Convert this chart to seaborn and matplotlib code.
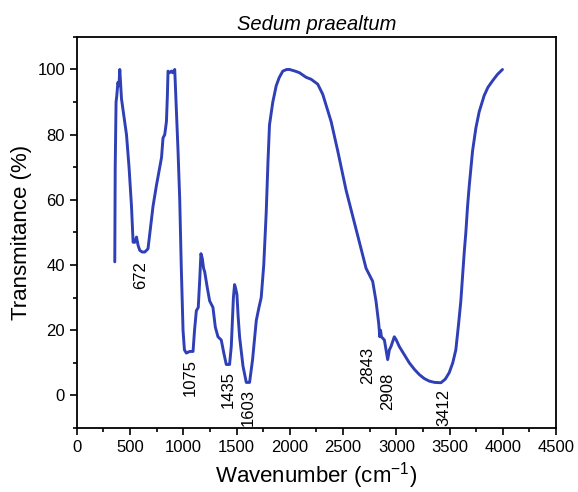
import pandas as pd
import matplotlib
matplotlib.use("Agg")
import matplotlib.pyplot as plt
import seaborn as sns

# --- FTIR spectrum values ---
wavenumber = [356, 360, 368, 375, 385, 395, 403, 410, 419, 440, 466, 490, 513, 528,
              545, 560, 575, 591, 615, 638, 668, 690, 715, 747, 778, 795, 809, 825,
              841, 850, 856, 870, 888, 900, 919, 934, 950, 966, 980, 997, 1010, 1028,
              1060, 1091, 1105, 1122, 1140, 1153, 1165, 1178, 1190, 1200, 1225, 1247,
              1278, 1300, 1325, 1356, 1380, 1403, 1434, 1450, 1470, 1481, 1490, 1503,
              1515, 1528, 1560, 1591, 1622, 1650, 1685, 1710, 1731, 1755, 1778, 1795,
              1809, 1840, 1872, 1900, 1934, 1970, 1997, 2050, 2091, 2153, 2200, 2262,
              2309, 2350, 2388, 2450, 2528, 2591, 2653, 2716, 2778, 2809, 2835, 2845,
              2852, 2860, 2888, 2919, 2935, 2950, 2981, 3000, 3028, 3075, 3122, 3170,
              3216, 3262, 3309, 3360, 3419, 3460, 3497, 3530, 3559, 3585, 3606, 3625,
              3638, 3653, 3669, 3684, 3716, 3747, 3778, 3825, 3860, 3903, 3950, 3997]
transmittance = [41, 70, 90, 92, 96, 95, 100, 96, 91, 86, 80, 70, 58, 47,
                 47, 48.6, 46, 44.5, 44, 44, 45, 51, 58, 64.4, 70, 73, 79, 80,
                 84, 92, 99.5, 99, 99.5, 99, 100, 88, 75, 60, 40, 20, 14, 13,
                 13.5, 13.5, 20, 26, 27, 35, 43.5, 42, 39, 38, 33, 29,
                 27, 21, 18, 17, 13, 9.5, 9.5, 15, 30, 34, 33, 31,
                 24, 18, 9, 4, 4, 11, 23, 27, 30, 40, 56, 72,
                 83, 90, 95, 97.5, 99.5, 100, 100, 99.5, 99, 97.6, 97, 95.5,
                 92.4, 88, 84, 75, 63, 55, 47, 39, 35, 29, 22, 18,
                 20, 18, 17, 11, 14, 15, 18, 17, 15, 12.5, 10, 8,
                 6.4, 5.2, 4.4, 4, 3.9, 5, 7, 10, 14, 22, 29, 38,
                 44, 50, 58, 64, 75, 82, 87, 92, 94.5, 96.5, 98.5, 100]

# Peak labels (text, x, y of label centre)
peak_labels = ["672", "1075", "1435", "1603", "2843", "2908", "3412"]
peak_x = [597, 1069, 1419, 1606, 2731, 2919, 3450]
peak_y = [36.9, 5.5, 1.8, -3.8, 9.2, 1.1, -3.8]

df = pd.DataFrame({"Wavenumber": wavenumber, "Transmittance": transmittance})

sns.set_style("ticks")
plt.rcParams["font.family"] = ["Liberation Sans", "DejaVu Sans"]
plt.rcParams["text.color"] = "black"
plt.rcParams["axes.labelcolor"] = "black"
plt.rcParams["xtick.color"] = "black"
plt.rcParams["ytick.color"] = "black"

fig, ax = plt.subplots(figsize=(5.78, 4.92), dpi=100)
fig.subplots_adjust(left=0.133, right=0.962, bottom=0.13, top=0.925)

sns.lineplot(data=df, x="Wavenumber", y="Transmittance", sort=False,
             estimator=None, color="#2f3fb5", linewidth=2.1, ax=ax)

for lab, x, y in zip(peak_labels, peak_x, peak_y):
    ax.text(x, y, lab, rotation=90, ha="center", va="center", fontsize=12)

ax.set_xlim(0, 4500)
ax.set_ylim(-10, 110)
ax.set_xticks(range(0, 4501, 500))
ax.set_xticks(range(250, 4500, 500), minor=True)
ax.set_yticks(range(0, 101, 20))
ax.set_yticks(range(-10, 111, 20), minor=True)
ax.tick_params(axis="both", which="major", labelsize=12, length=5, width=1.2,
               direction="out", color="black", labelcolor="black")
ax.tick_params(axis="both", which="minor", length=3, width=1.2,
               direction="out", color="black")
for s in ax.spines.values():
    s.set_linewidth(1.3)
    s.set_color("black")

ax.set_xlabel("Wavenumber (cm$^{\\mathregular{-1}}$)", fontsize=16, color="black")
ax.set_ylabel("Transmitance (%)", fontsize=16, color="black")
ax.set_title("Sedum praealtum", fontsize=14.5, style="italic", pad=5, color="black")

plt.savefig("out.png", dpi=100)
